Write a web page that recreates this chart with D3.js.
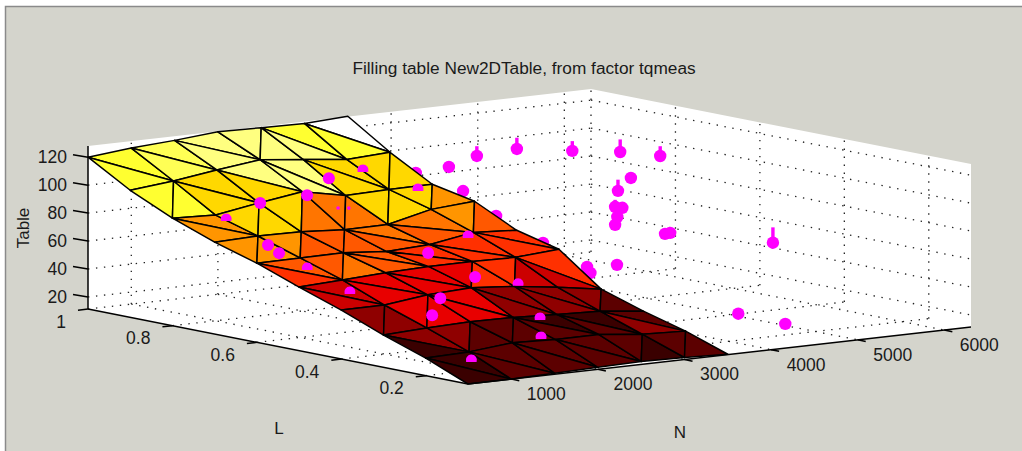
<!DOCTYPE html>
<html><head><meta charset="utf-8">
<script src="https://cdnjs.cloudflare.com/ajax/libs/d3/7.8.5/d3.min.js"></script>
<style>html,body{margin:0;padding:0;background:#fff;overflow:hidden}svg{display:block}text{font-family:"Liberation Sans",Arial,sans-serif;fill:#1a1a1a}</style>
</head><body><svg id="c" width="1022" height="451"></svg>
<script>
const title = "Filling table New2DTable, from factor tqmeas";
const tableN = [500,1000,1500,2000,2500,3000,3500];
const tableL = [1,0.9,0.8,0.7,0.6,0.5,0.4,0.3,0.2,0.1];
const tableZ = [
 [120,123,125,127.6,127.1,126.6,128.2],
 [102.3,105.4,109.8,113.6,110.2,106.8,108.4],
 [88.3,87,92.2,96.7,90.5,91.3,91.5],
 [77.1,78,77.5,75.5,75.7,83,85.3],
 [68,68.3,68.4,65.8,67.3,72.5,70.5],
 [56.9,58.5,60.1,61,61.2,60.6,62.9],
 [46.4,46.5,50.3,51.9,49.3,45.1,40.3],
 [34.5,36.1,37,36.5,35.2,34,30.5],
 [24,24.9,27.9,26.7,26.8,23.5,22.2],
 [11.4,11.4,12.1,12.8,13.5,12.8,11.6]
];
const diagonals = ["HHHVHH","VHHHHV","HVVVVV","VVVHHV","HVHHHH","HHHVVH","VVHHHV","HVVHHH","HHHHVV"];
const faceLevelA = [
 [10,11,12,12,10,-1],[10,9,12,12,9,9],[8,9,9,7,9,9],[8,8,6,7,7,8],[6,6,6,5,5,5],
 [3,4,4,4,5,5],[2,4,4,2,2,2],[2,2,1,0,0,1],[0,1,1,1,1,1]
];
const faceLevelB = [
 [10,11,12,12,12,10],[10,9,9,12,9,9],[8,9,7,7,9,8],[8,6,6,6,6,6],[5,7,6,5,5,5],
 [3,4,4,5,3,3],[2,4,4,2,2,1],[0,1,1,1,1,2],[0,1,1,1,0,1]
];
const levelColors = ["#3a0000","#5c0000","#8f0000","#cc0000","#e80000","#ff3000","#ff5800","#ff7500","#ff9500","#ffd800","#ffff30","#ffff55","#ffff80"];
// measured points as [N, L, value, stem height in value units]
const pointsBehind = [
 [4015,.8,108.1,7],[4477,.8,109.9,8],[5117,.8,104,7],[4695,.6,118.1,9],[5157,.6,112,7],[3692,.8,102.5,0],
 [5306,.7,89.3,0],[5157,.7,81.1,8],[4720,.6,78,0],[4636,.6,79.3,5],[4174,.5,81.3,0],[4149,.5,75.8,0],
 [4725,.5,65.3,0],[4785,.5,65.6,0],[3683,.4,56.4,0],[3727,.48,49.8,0],[3727,.472,46,0],[5971,.5,50.2,11],
 [4596,.3,21,0],[4651,.2,19.3,0],[3578,.855,95.8,0],[3578,.743,89.5,0],[3628,.675,75.4,0],[3628,.564,62.7,0]
];
const pointsAbove = [
 [2501,.84,100.5],[1811,.75,98.5],[1513,.8,92],[872,.65,75.4],[902,.63,70.6],[1990,.5,70.8],[1061,.3,44.8],[1399,.35,51.6],[2044,.4,59.3]
];
const pointsPiercing = [
 [2848,.7,98.6],[2695,.55,75],[2541,.4,50.8],[2307,.3,34],[1831,.2,29.7],[783,.15,23.5],[594,.5,69.8],[599,.4,58.5],[877,.75,87.9],[2943,.85,102.6]
];
const pointsTiny = [[1925,.7,91.5],[2049,.7,90.6]];
const nTicks = [1000,2000,3000,4000,5000,6000];
const lTicks = [0.2,0.4,0.6,0.8,1];
const lLabels = ["0.2","0.4","0.6","0.8","1"];
const zTicks = [20,40,60,80,100,120];
const nDomain = [500,6308], lDomain = [0.1,1], zDomain = [11.4,128];

const svg = d3.select("#c");
const bg = "#d4d4cc";
svg.append("rect").attr("x",5.5).attr("y",6.5).attr("width",1030).attr("height",460).attr("fill",bg).attr("stroke","#8a8a8a").attr("stroke-width",1.5);

// oblique projection built from linear scales
const front = [468,384];
const nx = d3.scaleLinear().domain(nDomain).range([0,503]);
const ny = d3.scaleLinear().domain(nDomain).range([0,-57]);
const lx = d3.scaleLinear().domain(lDomain).range([0,-380]);
const ly = d3.scaleLinear().domain(lDomain).range([0,-75]);
const zy = d3.scaleLinear().domain(zDomain).range([0,-163]);
const P = (n,l,z)=>[front[0]+nx(n)+lx(l), front[1]+ny(n)+ly(l)+zy(z)];
const [n0,n1]=nDomain,[l0,l1]=lDomain,[z0,z1]=zDomain;
const poly = pts => "M"+pts.map(p=>p.join(",")).join("L")+"Z";

// white back box
svg.append("path").attr("fill","#fff").attr("d",poly([P(n0,l1,z0),P(n0,l1,z1),P(n1,l1,z1),P(n1,l0,z1),P(n1,l0,z0),P(n0,l0,z0)]));

// dotted grid
const grid=[];
zTicks.forEach(z=>{grid.push([P(n0,l1,z),P(n1,l1,z)]);grid.push([P(n1,l1,z),P(n1,l0,z)]);});
nTicks.forEach(n=>{grid.push([P(n,l1,z0),P(n,l1,z1)]);grid.push([P(n,l1,z0),P(n,l0,z0)]);});
lTicks.forEach(l=>{grid.push([P(n1,l,z0),P(n1,l,z1)]);grid.push([P(n0,l,z0),P(n1,l,z0)]);});
svg.append("g").selectAll("line").data(grid).join("line")
 .attr("x1",d=>d[0][0]).attr("y1",d=>d[0][1]).attr("x2",d=>d[1][0]).attr("y2",d=>d[1][1])
 .attr("stroke","#222").attr("stroke-width",1.3).attr("stroke-dasharray","1.4 6.6");

// markers
const magenta="#ff00ff";
function drawPoints(g,rows,r){
 g.selectAll("line").data(rows.filter(d=>d[3])).join("line")
  .attr("x1",d=>P(d[0],d[1],d[2])[0]).attr("y1",d=>P(d[0],d[1],d[2])[1])
  .attr("x2",d=>P(d[0],d[1],d[2]+d[3])[0]).attr("y2",d=>P(d[0],d[1],d[2]+d[3])[1])
  .attr("stroke",magenta).attr("stroke-width",3.4);
 g.selectAll("circle").data(rows).join("circle")
  .attr("cx",d=>P(d[0],d[1],d[2])[0]).attr("cy",d=>P(d[0],d[1],d[2])[1]).attr("r",r).attr("fill",magenta);
}
drawPoints(svg.append("g"),pointsBehind,6.2);

// surface
const faces=[];
diagonals.forEach((row,j)=>row.split("").forEach((t,i)=>{
 const a=[i,j],b=[i+1,j],c=[i,j+1],d=[i+1,j+1];
 const tris = t==="H" ? [[a,b,d],[a,c,d]] : [[a,b,c],[b,c,d]];
 faces.push({tri:tris[0],lev:faceLevelA[j][i]});
 faces.push({tri:tris[1],lev:faceLevelB[j][i]});
}));
const gp=v=>P(tableN[v[0]],tableL[v[1]],tableZ[v[1]][v[0]]);
svg.append("g").selectAll("path").data(faces).join("path")
 .attr("d",f=>poly(f.tri.map(gp)))
 .attr("fill",f=>f.lev<0?"#fff":levelColors[f.lev])
 .attr("stroke","#000").attr("stroke-width",1.5).attr("stroke-linejoin","round");

drawPoints(svg.append("g"),pointsAbove,6);
drawPoints(svg.append("g"),pointsTiny,1.8);
svg.append("g").selectAll("path").data(pointsPiercing).join("path")
 .attr("fill",magenta)
 .attr("d",d=>{const p=P(d[0],d[1],d[2]),q=d3.path();q.arc(p[0],p[1],5.6,0.35,Math.PI-0.35,true);q.closePath();return q.toString();});

// axes
const axisLines=[[P(n0,l1,z0),P(n0,l1,z1)],[P(n0,l1,z0),P(n0,l0,z0)],[P(n0,l0,z0),P(n1,l0,z0)]];
const ticks=[];
zTicks.forEach(z=>{const p=P(n0,l1,z);ticks.push([p,[p[0]-15,p[1]-2.5]]);});
lTicks.forEach(l=>{const p=P(n0,l,z0);ticks.push([p,[p[0]-10,p[1]+1.2]]);});
nTicks.forEach(n=>{const p=P(n,l0,z0);ticks.push([p,[p[0]+8,p[1]+1.7]]);});
svg.append("g").selectAll("line").data(axisLines.concat(ticks)).join("line")
 .attr("x1",d=>d[0][0]).attr("y1",d=>d[0][1]).attr("x2",d=>d[1][0]).attr("y2",d=>d[1][1])
 .attr("stroke","#000").attr("stroke-width",1.5);

// text
const fs=17.5;
svg.append("g").selectAll("text").data(zTicks).join("text").text(d=>d)
 .attr("x",d=>P(n0,l1,d)[0]-21).attr("y",d=>P(n0,l1,d)[1]+6).attr("text-anchor","end").attr("font-size",fs);
svg.append("g").selectAll("text").data(lTicks).join("text").text((d,i)=>lLabels[i])
 .attr("x",d=>P(n0,d,z0)[0]-22).attr("y",d=>P(n0,d,z0)[1]+18.6).attr("text-anchor","end").attr("font-size",fs);
svg.append("g").selectAll("text").data(nTicks).join("text").text(d=>d)
 .attr("x",d=>P(d,l0,z0)[0]+35).attr("y",d=>P(d,l0,z0)[1]+21).attr("text-anchor","middle").attr("font-size",fs);
svg.append("text").text(title).attr("x",524).attr("y",74).attr("text-anchor","middle").attr("font-size",17.25);
svg.append("text").text("L").attr("x",279).attr("y",434).attr("text-anchor","middle").attr("font-size",17);
svg.append("text").text("N").attr("x",680).attr("y",438).attr("text-anchor","middle").attr("font-size",17);
svg.append("text").text("Table").attr("transform","translate(29,228) rotate(-90)").attr("text-anchor","middle").attr("font-size",17);
</script></body></html>
